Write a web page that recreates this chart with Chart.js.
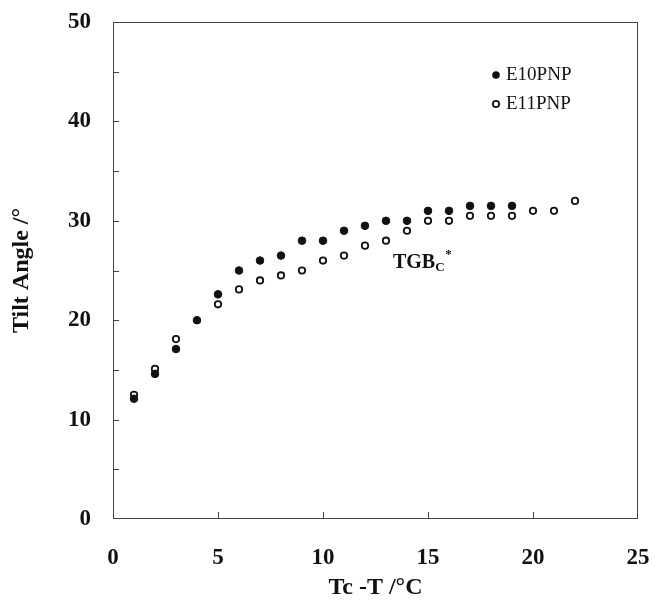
<!DOCTYPE html>
<html>
<head>
    <meta charset="utf-8">
    <title>Tilt angle vs Tc - T</title>
    <style>
        html, body { margin: 0; padding: 0; background: #fff; }
        #wrap { width: 655px; height: 602px; }
    </style>
</head>
<body>
    <div id="wrap"><canvas id="myChart" width="655" height="602"></canvas></div>
    <script src="https://cdn.jsdelivr.net/npm/chart.js"></script>
    <script>
        // values
        const e10x = [1, 2, 3, 4, 5, 6, 7, 8, 9, 10, 11, 12, 13, 14, 15, 16, 17, 18, 19];
        const e10y = [12.1, 14.6, 17.1, 20.0, 22.6, 25.0, 26.0, 26.5, 28.0, 28.0, 29.0, 29.5, 30.0, 30.0, 31.0, 31.0, 31.5, 31.5, 31.5];
        const e11x = [1, 2, 3, 5, 6, 7, 8, 9, 10, 11, 12, 13, 14, 15, 16, 17, 18, 19, 20, 21, 22];
        const e11y = [12.5, 15.1, 18.1, 21.6, 23.1, 24.0, 24.5, 25.0, 26.0, 26.5, 27.5, 28.0, 29.0, 30.0, 30.0, 30.5, 30.5, 30.5, 31.0, 31.0, 32.0];
        const seriesNames = ['E10PNP', 'E11PNP'];
        const xTicks = [0, 5, 10, 15, 20, 25];
        const yTicks = [0, 10, 20, 30, 40, 50];

        const serif = '"Liberation Serif", "DejaVu Serif", serif';

        function pts(xs, ys) {
            return xs.map((x, i) => ({ x: x, y: ys[i] }));
        }

        // box, inward ticks, legend and the TGBc* label
        const extras = {
            id: 'extras',
            afterDraw(chart) {
                const c = chart.ctx;
                const a = chart.chartArea;
                const xs = chart.scales.x, ys = chart.scales.y;
                c.save();
                c.strokeStyle = '#444';
                c.lineWidth = 1;
                c.strokeRect(a.left + 0.5, a.top + 0.5, a.right - a.left - 1, a.bottom - a.top - 1);

                c.beginPath();
                for (let v = 5; v < 50; v += 5) {
                    const py = Math.round(ys.getPixelForValue(v)) + 0.5;
                    c.moveTo(a.left, py);
                    c.lineTo(a.left + 6, py);
                }
                for (let v = 5; v < 25; v += 5) {
                    const px = Math.round(xs.getPixelForValue(v)) + 0.5;
                    c.moveTo(px, a.bottom);
                    c.lineTo(px, a.bottom - 7);
                }
                c.stroke();

                // legend
                c.fillStyle = '#111';
                c.strokeStyle = '#111';
                c.font = '19px ' + serif;
                c.textBaseline = 'middle';
                c.textAlign = 'left';
                c.beginPath();
                c.arc(496, 75, 3.8, 0, Math.PI * 2);
                c.fill();
                c.fillText(seriesNames[0], 506, 75);
                c.beginPath();
                c.lineWidth = 1.8;
                c.arc(496, 104, 3.2, 0, Math.PI * 2);
                c.stroke();
                c.fillText(seriesNames[1], 506, 104);

                // TGBc* label
                const tx = xs.getPixelForValue(13.33);
                const ty = ys.getPixelForValue(25.3);
                c.textBaseline = 'alphabetic';
                c.font = 'bold 20px ' + serif;
                c.fillText('TGB', tx, ty);
                const w = c.measureText('TGB').width;
                c.font = 'bold 13px ' + serif;
                c.fillText('C', tx + w, ty + 3);
                c.fillText('*', tx + w + 10, ty - 10);
                c.restore();
            }
        };

        const data = {
            datasets: [{
                label: seriesNames[0],
                data: pts(e10x, e10y),
                pointRadius: 3.8,
                pointBorderWidth: 1,
                pointBackgroundColor: '#111',
                pointBorderColor: '#111',
                showLine: false
            }, {
                label: seriesNames[1],
                data: pts(e11x, e11y),
                pointRadius: 3.2,
                pointBorderWidth: 1.8,
                pointBackgroundColor: '#fff',
                pointBorderColor: '#111',
                showLine: false
            }]
        };

        const options = {
            responsive: false,
            animation: false,
            layout: { padding: { left: 0, right: 17, top: 22, bottom: 0 } },
            plugins: {
                legend: { display: false },
                tooltip: { enabled: false }
            },
            scales: {
                x: {
                    type: 'linear',
                    min: 0,
                    max: 25,
                    afterBuildTicks: (s) => { s.ticks = xTicks.map(v => ({ value: v })); },
                    afterFit: (s) => {
                        s.height = 83;
                        s.paddingLeft = 0;
                        s.paddingRight = 0;
                    },
                    grid: { display: false, drawTicks: false },
                    border: { display: false },
                    ticks: {
                        padding: 25,
                        color: '#111',
                        font: { family: serif, size: 23, weight: 'bold' }
                    },
                    title: {
                        display: true,
                        text: 'Tc -T /\u00b0C',
                        color: '#111',
                        padding: { top: 0, bottom: 0 },
                        font: { family: serif, size: 24, weight: 'bold' }
                    }
                },
                y: {
                    type: 'linear',
                    min: 0,
                    max: 50,
                    afterBuildTicks: (s) => { s.ticks = yTicks.map(v => ({ value: v })); },
                    afterFit: (s) => {
                        s.width = 113;
                        s.paddingTop = 0;
                        s.paddingBottom = 0;
                    },
                    grid: { display: false, drawTicks: false },
                    border: { display: false },
                    ticks: {
                        padding: 22,
                        color: '#111',
                        font: { family: serif, size: 23, weight: 'bold' }
                    },
                    title: {
                        display: true,
                        text: 'Tilt Angle /\u00b0',
                        color: '#111',
                        padding: { top: 7, bottom: 0 },
                        font: { family: serif, size: 24, weight: 'bold' }
                    }
                }
            }
        };

        const ctx = document.getElementById('myChart').getContext('2d');
        const myChart = new Chart(ctx, {
            type: 'scatter',
            data: data,
            options: options,
            plugins: [extras]
        });
    </script>
</body>
</html>
